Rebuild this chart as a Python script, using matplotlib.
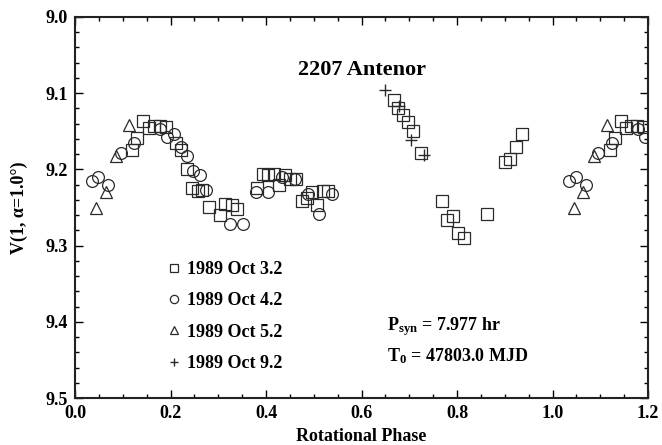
import matplotlib
matplotlib.use("Agg")
import matplotlib.pyplot as plt
import numpy as np

plt.rcParams['font.family'] = ['Liberation Serif', 'DejaVu Serif']
plt.rcParams['font.weight'] = 'bold'
plt.rcParams['mathtext.fontset'] = 'custom'
plt.rcParams['mathtext.rm'] = 'Liberation Serif:bold'
plt.rcParams['mathtext.bf'] = 'Liberation Serif:bold'
plt.rcParams['mathtext.default'] = 'bf'

### data (rotational phase, V magnitude) ###
# 1989 Oct 3.2
ph_oct3 = [0.120, 0.130, 0.143, 0.154, 0.165, 0.177, 0.191, 0.212, 0.221, 0.234,
           0.246, 0.257, 0.266, 0.281, 0.304, 0.315, 0.328, 0.339, 0.382, 0.393,
           0.405, 0.416, 0.428, 0.439, 0.450, 0.462, 0.475, 0.485, 0.497, 0.507,
           0.520, 0.530, 0.668, 0.677, 0.687, 0.697, 0.708, 0.725, 0.768, 0.780,
           0.791, 0.803, 0.815, 0.862, 0.901, 0.911, 0.924, 0.936]
v_oct3 = [9.174, 9.159, 9.137, 9.146, 9.143, 9.143, 9.144, 9.166, 9.175, 9.199,
          9.224, 9.228, 9.227, 9.249, 9.260, 9.246, 9.247, 9.252, 9.224, 9.206,
          9.207, 9.206, 9.220, 9.207, 9.213, 9.213, 9.241, 9.238, 9.229, 9.247,
          9.228, 9.228, 9.109, 9.119, 9.128, 9.138, 9.150, 9.178, 9.242, 9.267,
          9.261, 9.284, 9.290, 9.259, 9.190, 9.187, 9.170, 9.153]

# 1989 Oct 4.2
ph_oct4 = [0.035, 0.049, 0.070, 0.096, 0.124, 0.178, 0.193, 0.207, 0.221, 0.234,
           0.248, 0.262, 0.274, 0.324, 0.351, 0.378, 0.405, 0.434, 0.461, 0.487,
           0.511, 0.539]
v_oct4 = [9.215, 9.210, 9.221, 9.179, 9.165, 9.147, 9.158, 9.153, 9.171, 9.182,
          9.202, 9.208, 9.227, 9.272, 9.271, 9.230, 9.229, 9.210, 9.213, 9.232,
          9.258, 9.232]

# 1989 Oct 5.2
ph_oct5 = [0.044, 0.064, 0.086, 0.114]
v_oct5 = [9.251, 9.230, 9.183, 9.142]

# 1989 Oct 9.2
ph_oct9 = [0.650, 0.679, 0.704, 0.731]
v_oct9 = [9.096, 9.117, 9.161, 9.181]

series = [(ph_oct3, v_oct3, 's', '1989 Oct 3.2'),
          (ph_oct4, v_oct4, 'o', '1989 Oct 4.2'),
          (ph_oct5, v_oct5, '^', '1989 Oct 5.2'),
          (ph_oct9, v_oct9, '+', '1989 Oct 9.2')]

fig = plt.figure(figsize=(6.62, 4.45), dpi=100)
ax = fig.add_axes([0.1133, 0.1056, 0.8656, 0.8562])

col = '#2a2a2a'
for ph, v, m, lab in series:
    ph = np.array(ph)
    v = np.array(v)
    # phase wraps: show the start of the curve again past 1.0
    x = np.concatenate([ph, ph[ph < 0.2] + 1.0])
    y = np.concatenate([v, v[ph < 0.2]])
    if m == '+':
        ax.plot(x, y, m, ms=8, mew=1.0, color=col, label=lab)
    else:
        ax.plot(x, y, m, ms=8 if m != 'o' else 8.5, mfc='none', mec=col,
                mew=0.9, label=lab)

ax.set_xlim(0.0, 1.2)
ax.set_ylim(9.5, 9.0)
ax.set_xticks(np.arange(0, 1.21, 0.2))
ax.set_xticks(np.arange(0, 1.21, 0.05), minor=True)
ax.set_yticks(np.arange(9.0, 9.51, 0.1))
ax.set_yticks(np.arange(9.0, 9.51, 0.02), minor=True)
ax.xaxis.set_major_formatter(matplotlib.ticker.FormatStrFormatter('%.1f'))
ax.yaxis.set_major_formatter(matplotlib.ticker.FormatStrFormatter('%.1f'))
ax.tick_params(which='both', direction='in', top=True, right=True, width=1.0,
               labelsize=13, pad=5)
ax.tick_params(which='major', length=6)
ax.tick_params(which='minor', length=3)
for s in ax.spines.values():
    s.set_linewidth(1.5)
    s.set_color('#222222')

ax.set_xlabel('Rotational Phase', fontsize=13, fontweight='bold', labelpad=4)
ax.set_ylabel('V(1, α=1.0°)', fontsize=13, fontweight='bold', labelpad=13)

ax.text(0.5, 0.862, '2207 Antenor', transform=ax.transAxes, ha='center',
        va='center', fontsize=16, fontweight='bold')

leg = ax.legend(loc='upper left', bbox_to_anchor=(0.164, 0.360), frameon=False,
                fontsize=13, markerscale=0.7, handlelength=0.6, handletextpad=0.4,
                labelspacing=0.8, borderpad=0, borderaxespad=0)

ax.text(0.545, 0.188, r'P$_{syn}$ = 7.977 hr', transform=ax.transAxes,
        ha='left', va='center', fontsize=13, fontweight='bold')
ax.text(0.545, 0.11, r'T$_0$ = 47803.0 MJD', transform=ax.transAxes,
        ha='left', va='center', fontsize=13, fontweight='bold')

fig.savefig('out.png', dpi=100)
